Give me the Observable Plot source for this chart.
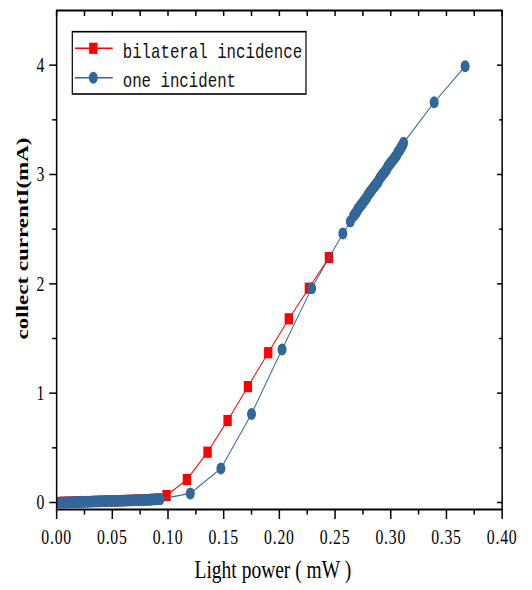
<!DOCTYPE html>
<html>
<head>
<meta charset="utf-8">
<script src="https://cdn.jsdelivr.net/npm/d3@7"></script>
<script src="https://cdn.jsdelivr.net/npm/@observablehq/plot@0.6"></script>
<style>
  html, body { margin: 0; padding: 0; background: #fff; overflow: hidden; }
  #wrap { width: 709px; height: 590px; transform: scaleX(0.75); transform-origin: 0 0; }
  g[aria-label="x-axis tick label"] text { letter-spacing: 1px; }
</style>
</head>
<body>
<div id="wrap"></div>
<script>
// ---- data ----
const seriesNames = ["bilateral incidence", "one incident"];

const bilateralPower = [0.004,0.007,0.010,0.013,0.016,0.019,0.022,0.025,0.028,0.031,0.034,0.037,0.040,0.043,0.046,0.049,0.052,0.055,0.058,0.061,0.064,0.067,0.070,0.073,0.076,0.079,0.082,0.085,0.088,0.091,
  0.0987,0.1170,0.1355,0.1535,0.1718,0.1900,0.2085,0.2265,0.2445];
const bilateralCurrent = [0.001,0.002,0.002,0.003,0.004,0.005,0.006,0.007,0.008,0.009,0.010,0.011,0.012,0.012,0.013,0.014,0.015,0.016,0.017,0.018,0.019,0.020,0.021,0.022,0.023,0.025,0.026,0.028,0.030,0.032,
  0.064,0.21,0.46,0.75,1.06,1.37,1.68,1.96,2.24];

const onePower = [0.004,0.007,0.010,0.013,0.016,0.019,0.022,0.025,0.028,0.031,0.034,0.037,0.040,0.043,0.046,0.049,0.052,0.055,0.058,0.061,0.064,0.067,0.070,0.073,0.076,0.079,0.082,0.085,0.088,0.091,0.093,
  0.1200,0.1475,0.1750,0.2024,0.2290,0.2570,0.2637,
  0.2665,0.2673,0.2680,0.2688,0.2695,0.2703,0.2710,0.2718,0.2725,0.2733,0.2740,0.2748,0.2755,0.2763,0.2770,0.2778,0.2785,0.2793,0.2800,0.2808,0.2815,0.2823,0.2830,0.2838,0.2845,0.2853,0.2860,0.2868,0.2875,0.2883,0.2890,0.2898,0.2905,0.2913,0.2920,0.2928,0.2935,0.2943,0.2950,0.2958,0.2965,0.2973,0.2980,0.2988,0.2995,0.3003,0.3010,0.3018,0.3025,0.3033,0.3040,0.3048,0.3055,0.3063,0.3070,0.3078,0.3085,0.3093,0.3100,0.3108,0.3115,
  0.3390,0.3668];
const oneCurrent = [0.000,0.001,0.002,0.003,0.004,0.005,0.006,0.006,0.007,0.008,0.009,0.010,0.011,0.012,0.013,0.013,0.014,0.015,0.016,0.017,0.018,0.019,0.020,0.021,0.022,0.023,0.024,0.025,0.027,0.029,0.031,
  0.083,0.31,0.81,1.40,1.96,2.46,2.57,
  2.62,2.63,2.64,2.65,2.66,2.68,2.69,2.70,2.71,2.72,2.73,2.74,2.75,2.76,2.77,2.78,2.79,2.81,2.82,2.83,2.84,2.85,2.86,2.87,2.88,2.89,2.90,2.91,2.92,2.93,2.94,2.96,2.97,2.98,2.99,3.00,3.01,3.02,3.03,3.04,3.05,3.07,3.08,3.09,3.10,3.11,3.12,3.13,3.14,3.15,3.16,3.17,3.18,3.20,3.21,3.22,3.23,3.25,3.26,3.27,3.29,
  3.66,3.99];

const xMajorTicks = [0, 0.05, 0.10, 0.15, 0.20, 0.25, 0.30, 0.35, 0.40];
const xMinorTicks = [0.025, 0.075, 0.125, 0.175, 0.225, 0.275, 0.325, 0.375];
const yMajorTicks = [0, 1, 2, 3, 4];
const yMinorTicks = [0.5, 1.5, 2.5, 3.5];
const xTitle = "Light power ( mW )";
const yTitle = "collect currentI(mA)";

const red = "#ff0000";
const blue = "#336699";

const bilateral = bilateralPower.map((p, i) => ({power: p, current: bilateralCurrent[i]}));
const one = onePower.map((p, i) => ({power: p, current: oneCurrent[i]}));

const chart = Plot.plot({
  width: 709,
  height: 590,
  marginLeft: 75,
  marginRight: 40,
  marginTop: 10,
  marginBottom: 81,
  style: {fontFamily: "'Liberation Serif', 'Times New Roman', serif", fontSize: "21px", color: "black", background: "white", overflow: "visible"},
  x: {domain: [0, 0.4]},
  y: {domain: [-0.064, 4.5]},
  marks: [
    Plot.line(bilateral, {x: "power", y: "current", stroke: red, strokeWidth: 1.2}),
    Plot.dot(bilateral, {x: "power", y: "current", symbol: "square", r: 6.3, fill: red, stroke: "none"}),
    Plot.line(one, {x: "power", y: "current", stroke: blue, strokeWidth: 1.2}),
    Plot.dot(one, {x: "power", y: "current", symbol: "circle", r: 6, fill: blue, stroke: "none"}),
    Plot.frame({stroke: "black", strokeWidth: 2}),
    // bottom axis
    Plot.axisX({anchor: "bottom", ticks: xMajorTicks, tickSize: 10, tickPadding: 10, strokeWidth: 2, tickFormat: d => d.toFixed(2), label: null}),
    Plot.axisX({anchor: "bottom", ticks: xMinorTicks, tickSize: 5.5, strokeWidth: 2, tickFormat: () => "", label: null}),
    // top mirror ticks (inward)
    Plot.axisX({anchor: "top", ticks: xMajorTicks.concat(xMinorTicks), tickSize: 5, dy: 5, strokeWidth: 2, tickFormat: () => "", label: null}),
    // left axis
    Plot.axisY({anchor: "left", ticks: yMajorTicks, tickSize: 9.3, tickPadding: 7, strokeWidth: 1.5, tickFormat: d => String(d), label: null}),
    Plot.axisY({anchor: "left", ticks: yMinorTicks, tickSize: 5.5, strokeWidth: 1.5, tickFormat: () => "", label: null}),
    // right mirror ticks (inward)
    Plot.axisY({anchor: "right", ticks: yMajorTicks, tickSize: 7.3, dx: -7.3, strokeWidth: 1.5, tickFormat: () => "", label: null}),
    Plot.axisY({anchor: "right", ticks: yMinorTicks, tickSize: 4.5, dx: -4.5, strokeWidth: 1.5, tickFormat: () => "", label: null}),
    // axis titles
    Plot.text([xTitle], {text: d => d, frameAnchor: "bottom", textAnchor: "middle", lineAnchor: "middle", dy: 60.4, dx: -8.7, fontSize: 26, fill: "black"}),
    Plot.text([yTitle], {text: d => d, frameAnchor: "left", textAnchor: "middle", lineAnchor: "middle", rotate: -90, dx: -45.5, dy: -21.5, fontSize: 23, fontWeight: "bold", fill: "black"})
  ]
});

// legend (inside the frame, top-left)
const svg = d3.select(chart);
const lg = svg.append("g").attr("class", "legend");
lg.append("rect").attr("x", 96.4).attr("y", 31.7).attr("width", 311.6).attr("height", 62.3)
  .attr("fill", "white").attr("stroke", "black").attr("stroke-width", 1.6);
const rows = [
  {name: seriesNames[0], color: red, sym: d3.symbolSquare, size: Math.PI * 6.3 * 6.3, y: 48.3, base: 57.7},
  {name: seriesNames[1], color: blue, sym: d3.symbolCircle, size: Math.PI * 6 * 6, y: 77.7, base: 86.7}
];
rows.forEach(r => {
  lg.append("line").attr("x1", 100).attr("x2", 150.3).attr("y1", r.y).attr("y2", r.y)
    .attr("stroke", r.color).attr("stroke-width", 1.4);
  lg.append("path").attr("d", d3.symbol(r.sym, r.size)()).attr("transform", `translate(124.4,${r.y})`)
    .attr("fill", r.color);
  lg.append("text").attr("x", 163.6).attr("y", r.base).text(r.name)
    .attr("text-anchor", "start")
    .attr("font-family", "'Liberation Mono', 'DejaVu Sans Mono', monospace").attr("font-size", 21).attr("fill", "#111");
});

document.getElementById("wrap").appendChild(chart);
</script>
</body>
</html>
